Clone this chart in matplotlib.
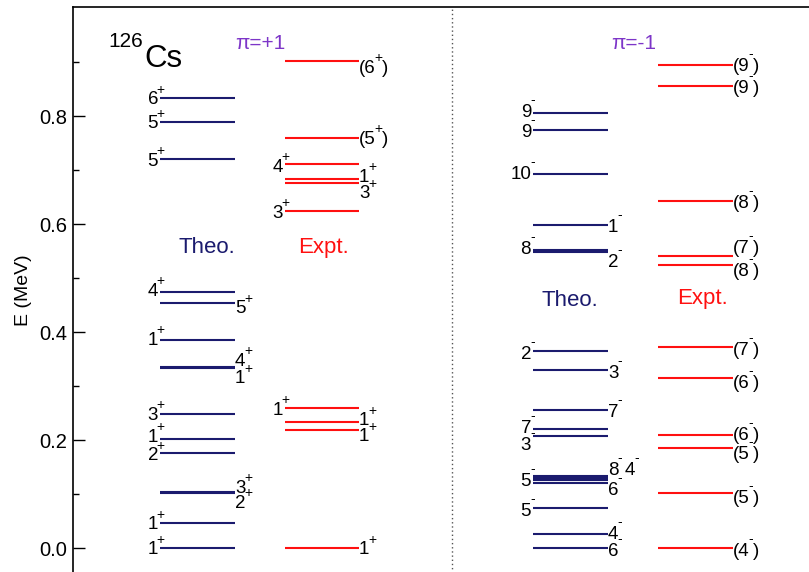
import matplotlib
matplotlib.use('Agg')
import matplotlib.pyplot as plt

plt.rcParams['font.family'] = ['Liberation Sans', 'DejaVu Sans']

# ---------------- data (energies in MeV, spins) ----------------
theo_pos_E = [0.834, 0.789, 0.720, 0.475, 0.454, 0.385, 0.336, 0.334, 0.248,
              0.201, 0.176, 0.103, 0.101, 0.047, 0.000]
theo_pos_J = ['6', '5', '5', '4', '5', '1', '4', '1', '3', '1', '2', '3', '2', '1', '1']

expt_pos_E = [0.901, 0.760, 0.711, 0.683, 0.676, 0.625, 0.259, 0.234, 0.219, 0.000]
expt_pos_J = ['(6', '(5', '4', '1', '3', '3', '1', '1', '1', '1']

theo_neg_E = [0.806, 0.775, 0.692, 0.598, 0.552, 0.549, 0.364, 0.330, 0.256,
              0.220, 0.207, 0.134, 0.130, 0.126, 0.121, 0.075, 0.026, 0.000]
theo_neg_J = ['9', '9', '10', '1', '8', '2', '2', '3', '7', '7', '3', '8', '4', '5',
              '6', '5', '4', '6']

expt_neg_E = [0.895, 0.855, 0.643, 0.541, 0.525, 0.372, 0.314, 0.210, 0.185,
              0.101, 0.000]
expt_neg_J = ['(9', '(9', '(8', '(7', '(8', '(7', '(6', '(6', '(5', '(5', '(4']

# ---------------- label layout (side, vertical/horizontal nudge in px) ----------------
theo_pos_side = ['L', 'L', 'L', 'L', 'R', 'L', 'R', 'R', 'L', 'L', 'L', 'R', 'R', 'L', 'L']
theo_pos_dy = [0, 0, 0, 2, -4, 2, 7, -9, 1, 4, -1, 6, -8, 0, 0]
expt_pos_side = ['R', 'R', 'L', 'R', 'R', 'L', 'L', 'R', 'R', 'R']
expt_pos_dy = [-5, 0, -1, 4, -9, -1, 0, 3, -5, 0]
theo_neg_side = ['L', 'L', 'L', 'R', 'L', 'R', 'L', 'R', 'R', 'L', 'L', 'R', 'R', 'L',
                 'R', 'L', 'R', 'R']
theo_neg_dy = [2, -1, 2, 0, 2.5, -9, -1, -2, -1, 3, -7, 7.4, 9, 0, -5.5, -2, 1.5, -2]
theo_neg_dx = [0, 0, 0, 0, 0, 0, 0, 0, 0, 0, 0, 0, 17, 0, 0, 0, 0, 0]
expt_neg_dy = [0, 0, -1, 9, -5, -1, -3, 1, -4, -3, -2]

NAVY = '#1b1b6e'
RED = '#ff1010'
PURPLE = '#7d35c8'

W, H, DPI = 809, 572, 100
fig = plt.figure(figsize=(W / DPI, H / DPI), dpi=DPI)

# axes: left spine at px 73, top at px 7, E=0 at px 548, 540 px per MeV
ytop = (548 - 7) / 540.0
ybot = -0.06
bottom_px = 548 + (-ybot) * 540
ax = fig.add_axes([73 / W, (H - bottom_px) / H, (825 - 73) / W, (bottom_px - 7) / H])
ax.set_xlim(73, 825)
ax.set_ylim(ybot, ytop)

for s in ['right', 'bottom']:
    ax.spines[s].set_visible(False)
for s in ['left', 'top']:
    ax.spines[s].set_linewidth(1.2)

ax.set_xticks([])
ax.set_yticks([0.0, 0.2, 0.4, 0.6, 0.8])
ax.set_yticklabels(['0.0', '0.2', '0.4', '0.6', '0.8'])
ax.set_yticks([0.1, 0.3, 0.5, 0.7, 0.9], minor=True)
ax.tick_params(axis='y', which='major', direction='in', length=8.6, width=1,
               labelsize=14.5, pad=4)
ax.tick_params(axis='y', which='minor', direction='in', length=4.3, width=1)

PX = 72.0 / DPI
FS = 13.5
FS_SUP = 10
CAP = 13.0


def label(x, E, J, parity, side, dy=0, dx=0):
    paren = J.startswith('(')
    if side == 'R':
        t = ax.annotate(J, xy=(x, E), xytext=(dx * PX, (dy - CAP / 2) * PX),
                        textcoords='offset points', ha='left', va='baseline',
                        fontsize=FS, color='black')
    else:
        t = ax.annotate(J, xy=(x, E), xytext=((dx - 2) * PX, (dy - CAP / 2) * PX),
                        textcoords='offset points', ha='right', va='baseline',
                        fontsize=FS, color='black')
    if parity > 0:
        s = ax.annotate('+', xy=(1, 1), xycoords=t, xytext=(-1.5 * PX, -2.4 * PX),
                        textcoords='offset points', ha='left', va='baseline',
                        fontsize=FS_SUP, color='black')
    else:
        s = ax.annotate('-', xy=(1, 1), xycoords=t, xytext=(-1.0 * PX, 0.0 * PX),
                        textcoords='offset points', ha='left', va='baseline',
                        fontsize=FS_SUP, color='black')
    if paren:
        ax.annotate(')', xy=(1, 0), xycoords=(s, t), xytext=(-0.5 * PX, 0),
                    textcoords='offset points', ha='left', va='bottom',
                    fontsize=FS, color='black')


def column(Es, Js, sides, dys, dxs, x0, x1, color, parity):
    ax.hlines(Es, x0, x1, colors=color, lw=1.5)
    for E, J, sd, dy, dx in zip(Es, Js, sides, dys, dxs):
        label(x1 if sd == 'R' else x0, E, J, parity, sd, dy, dx)


column(theo_pos_E, theo_pos_J, theo_pos_side, theo_pos_dy, [0] * len(theo_pos_E),
       160, 235, NAVY, +1)
column(expt_pos_E, expt_pos_J, expt_pos_side, expt_pos_dy, [0] * len(expt_pos_E),
       285, 359, RED, +1)
column(theo_neg_E, theo_neg_J, theo_neg_side, theo_neg_dy, theo_neg_dx,
       533, 608, NAVY, -1)
column(expt_neg_E, expt_neg_J, ['R'] * len(expt_neg_E), expt_neg_dy,
       [0] * len(expt_neg_E), 658, 733, RED, -1)

# divider
ax.axvline(452, color='#555555', ls=(0, (1, 2)), lw=1)

# annotations
ax.text(108, (548 - 47) / 540, '126', fontsize=15, ha='left', va='baseline')
ax.text(144, (548 - 67) / 540, 'Cs', fontsize=22.5, ha='left', va='baseline')
ax.text(260, (548 - 49) / 540, 'π=+1', fontsize=15, ha='center', va='baseline', color=PURPLE)
ax.text(634, (548 - 49) / 540, 'π=-1', fontsize=15, ha='center', va='baseline', color=PURPLE)
ax.text(207, (548 - 253) / 540, 'Theo.', fontsize=16, ha='center', va='baseline', color=NAVY)
ax.text(323, (548 - 253) / 540, 'Expt.', fontsize=16, ha='center', va='baseline', color=RED)
ax.text(570, (548 - 306) / 540, 'Theo.', fontsize=16, ha='center', va='baseline', color=NAVY)
ax.text(702, (548 - 304) / 540, 'Expt.', fontsize=16, ha='center', va='baseline', color=RED)

fig.text(23 / W, 1 - 290 / H, 'E (MeV)', rotation=90, ha='center', va='center', fontsize=14)

fig.savefig('out.png', dpi=DPI)
